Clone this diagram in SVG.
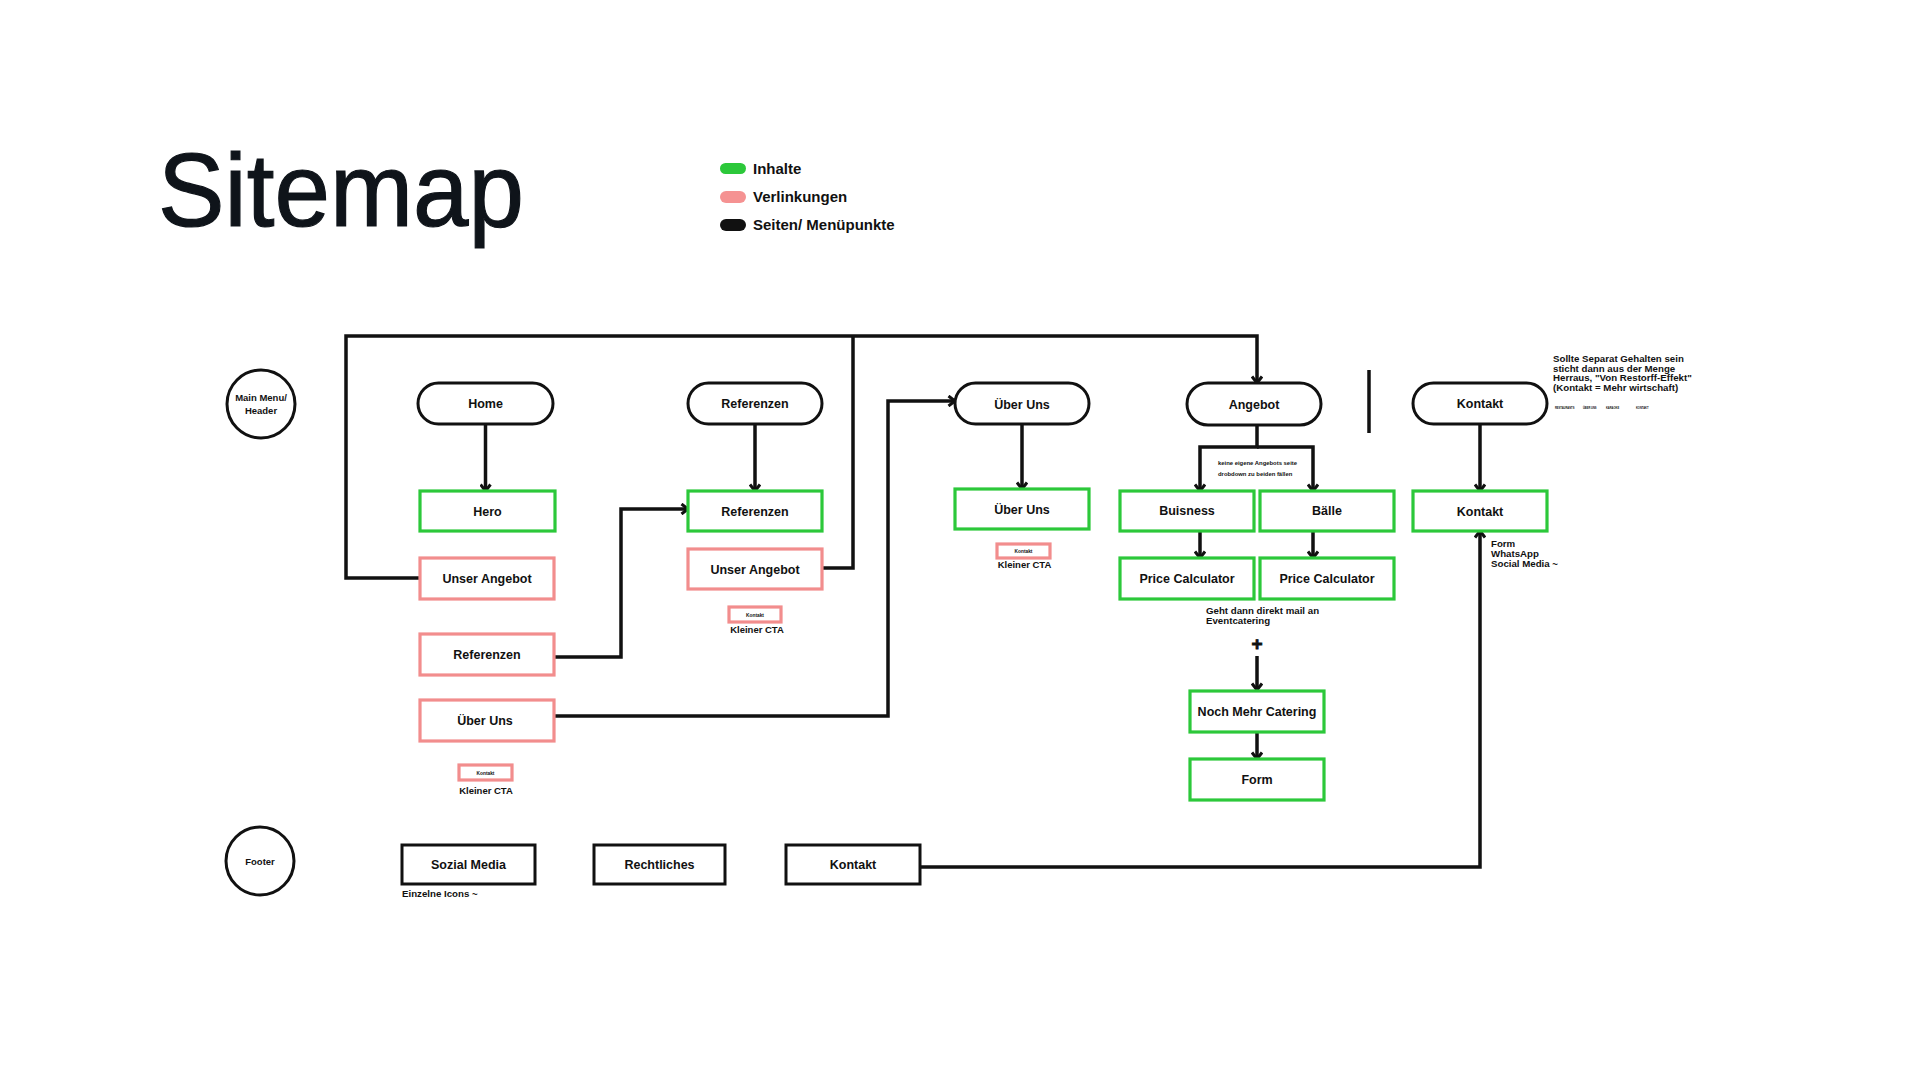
<svg xmlns="http://www.w3.org/2000/svg" width="1920" height="1080" viewBox="0 0 1920 1080">
<defs>
<style>
.t{font-family:"Liberation Sans",Arial,sans-serif;font-weight:bold;fill:#111;}
.lbl{font-size:12.5px;text-anchor:middle;}
.note{font-size:9.7px;}
.pill{fill:#fff;stroke:#111;stroke-width:3;}
.g{fill:#fff;stroke:#2cc83a;stroke-width:3.2;}
.p{fill:#fff;stroke:#f28d8d;stroke-width:3.2;}
.b{fill:#fff;stroke:#111;stroke-width:3;}
.c{fill:none;stroke:#111;stroke-width:3.5;}
.ca{fill:none;stroke:#111;stroke-width:3.5;marker-end:url(#arr);}
</style>
<marker id="arr" viewBox="0 0 12 12" refX="9" refY="6" markerWidth="12" markerHeight="12" markerUnits="userSpaceOnUse" orient="auto">
<path d="M2.5,1 L9,6 L2.5,11" fill="none" stroke="#111" stroke-width="3"/>
</marker>
</defs>
<rect width="1920" height="1080" fill="#fff"/>

<text x="158" y="226" font-family="'Liberation Sans',Arial,sans-serif" font-size="104" fill="#0f141a" stroke="#0f141a" stroke-width="1.2" textLength="366" lengthAdjust="spacingAndGlyphs">Sitemap</text>

<g id="legend">
<rect x="720" y="163" width="26" height="11" rx="5.5" fill="#2cc83a"/>
<rect x="720" y="191" width="26" height="12" rx="6" fill="#f59292"/>
<rect x="720" y="219" width="26" height="12" rx="6" fill="#111"/>
<text class="t" x="753" y="173.5" font-size="15">Inhalte</text>
<text class="t" x="753" y="201.5" font-size="15">Verlinkungen</text>
<text class="t" x="753" y="229.5" font-size="15">Seiten/ Menüpunkte</text>
</g>

<g id="connectors">
<path class="ca" d="M420,578 H346 V336 H1257 V383"/>
<path class="c" d="M822,568 H853 V336"/>
<path class="ca" d="M553,657 H621 V509 H688"/>
<path class="ca" d="M553,716 H888 V401 H955"/>
<path class="ca" d="M920,867 H1480 V531"/>
<path class="ca" d="M485.5,424 V491"/>
<path class="ca" d="M755,424 V491"/>
<path class="ca" d="M1022,424 V489"/>
<path class="ca" d="M1257,426 V447 H1200 V491"/>
<path class="ca" d="M1257,447 H1313 V491"/>
<path class="ca" d="M1200,531 V558"/>
<path class="ca" d="M1313,531 V558"/>
<path class="ca" d="M1257,656 V690"/>
<path class="ca" d="M1257,732 V759"/>
<path class="ca" d="M1480,424 V491"/>
<path class="c" d="M1369,370 V433" stroke-width="3"/>
</g>

<g id="main-menu">
<circle cx="261" cy="404" r="34" fill="#fff" stroke="#111" stroke-width="3"/>
<text class="t" x="261" y="401" font-size="9.5" text-anchor="middle">Main Menu/</text>
<text class="t" x="261" y="414" font-size="9.5" text-anchor="middle">Header</text>
</g>

<g id="home"><rect class="pill" x="418" y="383" width="135" height="41" rx="20.5"/><text class="t lbl" x="485.5" y="408">Home</text></g>
<g id="hero"><rect class="g" x="420" y="491" width="135" height="40"/><text class="t lbl" x="487.5" y="515.5">Hero</text></g>
<g id="home-unser-angebot"><rect class="p" x="420" y="558" width="134" height="41"/><text class="t lbl" x="487" y="583">Unser Angebot</text></g>
<g id="home-referenzen"><rect class="p" x="420" y="634" width="134" height="41"/><text class="t lbl" x="487" y="659">Referenzen</text></g>
<g id="home-ueber-uns"><rect class="p" x="420" y="700" width="134" height="41"/><text class="t lbl" x="485" y="725">Über Uns</text></g>
<g id="home-cta"><rect class="p" x="459" y="765" width="53" height="15" stroke-width="2.5"/><text class="t" x="485.5" y="774.5" font-size="4.8" text-anchor="middle">Kontakt</text><text class="t" x="486" y="793.5" font-size="9.5" text-anchor="middle">Kleiner CTA</text></g>

<g id="referenzen"><rect class="pill" x="688" y="383" width="134" height="41" rx="20.5"/><text class="t lbl" x="755" y="408">Referenzen</text></g>
<g id="referenzen-content"><rect class="g" x="688" y="491" width="134" height="40"/><text class="t lbl" x="755" y="515.5">Referenzen</text></g>
<g id="ref-unser-angebot"><rect class="p" x="688" y="549" width="134" height="40"/><text class="t lbl" x="755" y="573.5">Unser Angebot</text></g>
<g id="ref-cta"><rect class="p" x="729" y="607" width="52" height="15" stroke-width="2.5"/><text class="t" x="755" y="616.5" font-size="4.8" text-anchor="middle">Kontakt</text><text class="t" x="757" y="633" font-size="9.5" text-anchor="middle">Kleiner CTA</text></g>

<g id="ueber-uns"><rect class="pill" x="955" y="383" width="134" height="41" rx="20.5"/><text class="t lbl" x="1022" y="408.5">Über Uns</text></g>
<g id="ueber-uns-content"><rect class="g" x="955" y="489" width="134" height="40"/><text class="t lbl" x="1022" y="513.5">Über Uns</text></g>
<g id="ueber-cta"><rect class="p" x="997" y="544" width="53" height="14" stroke-width="2.5"/><text class="t" x="1023.5" y="553" font-size="4.8" text-anchor="middle">Kontakt</text><text class="t" x="1024.5" y="568" font-size="9.5" text-anchor="middle">Kleiner CTA</text></g>

<g id="angebot"><rect class="pill" x="1187" y="383" width="134" height="42" rx="21"/><text class="t lbl" x="1254" y="408.5">Angebot</text></g>
<g id="angebot-note"><text class="t" x="1218" y="465" font-size="5.9" fill="#333">keine eigene Angebots seite</text><text class="t" x="1218" y="475.5" font-size="5.9" fill="#333">drobdown zu beiden fällen</text></g>
<g id="buisness"><rect class="g" x="1120" y="491" width="134" height="40"/><text class="t lbl" x="1187" y="514.5">Buisness</text></g>
<g id="baelle"><rect class="g" x="1260" y="491" width="134" height="40"/><text class="t lbl" x="1327" y="514.5">Bälle</text></g>
<g id="price-calc-1"><rect class="g" x="1120" y="558" width="134" height="41"/><text class="t lbl" x="1187" y="582.5">Price Calculator</text></g>
<g id="price-calc-2"><rect class="g" x="1260" y="558" width="134" height="41"/><text class="t lbl" x="1327" y="582.5">Price Calculator</text></g>
<g id="mail-note"><text class="t note" x="1206" y="614">Geht dann direkt mail an</text><text class="t note" x="1206" y="624">Eventcatering</text><text class="t" x="1257" y="650" font-size="19" text-anchor="middle" stroke="#111" stroke-width="0.8">+</text></g>
<g id="noch-mehr-catering"><rect class="g" x="1190" y="691" width="134" height="41"/><text class="t lbl" x="1257" y="715.5">Noch Mehr Catering</text></g>
<g id="form"><rect class="g" x="1190" y="759" width="134" height="41"/><text class="t lbl" x="1257" y="783.5">Form</text></g>

<g id="kontakt"><rect class="pill" x="1413" y="383" width="134" height="41" rx="20.5"/><text class="t lbl" x="1480" y="408">Kontakt</text></g>
<g id="kontakt-content"><rect class="g" x="1413" y="491" width="134" height="40"/><text class="t lbl" x="1480" y="515.5">Kontakt</text></g>
<g id="kontakt-note"><text class="t note" x="1491" y="547">Form</text><text class="t note" x="1491" y="557">WhatsApp</text><text class="t note" x="1491" y="567">Social Media ~</text></g>
<g id="separat-note">
<text class="t note" x="1553" y="362">Sollte Separat Gehalten sein</text>
<text class="t note" x="1553" y="371.7">sticht dann aus der Menge</text>
<text class="t note" x="1553" y="381.4">Herraus, "Von Restorff-Effekt"</text>
<text class="t note" x="1553" y="391.1">(Kontakt = Mehr wirtschaft)</text>
<text class="t" x="1555" y="409" font-size="2.6" fill="#555">RESTAURANTS</text>
<text class="t" x="1583" y="409" font-size="2.6" fill="#555">ÜBER UNS</text>
<text class="t" x="1606" y="409" font-size="2.6" fill="#555">KARAOKE</text>
<text class="t" x="1636" y="409" font-size="2.6" fill="#555">KONTAKT</text>
</g>

<g id="footer">
<circle cx="260" cy="861" r="34" fill="#fff" stroke="#111" stroke-width="3"/>
<text class="t" x="260" y="864.5" font-size="9.5" text-anchor="middle">Footer</text>
</g>
<g id="sozial-media"><rect class="b" x="402" y="845" width="133" height="39"/><text class="t lbl" x="468.5" y="869">Sozial Media</text><text class="t note" x="402" y="897">Einzelne Icons ~</text></g>
<g id="rechtliches"><rect class="b" x="594" y="845" width="131" height="39"/><text class="t lbl" x="659.5" y="869">Rechtliches</text></g>
<g id="footer-kontakt"><rect class="b" x="786" y="845" width="134" height="39"/><text class="t lbl" x="853" y="869">Kontakt</text></g>
</svg>
